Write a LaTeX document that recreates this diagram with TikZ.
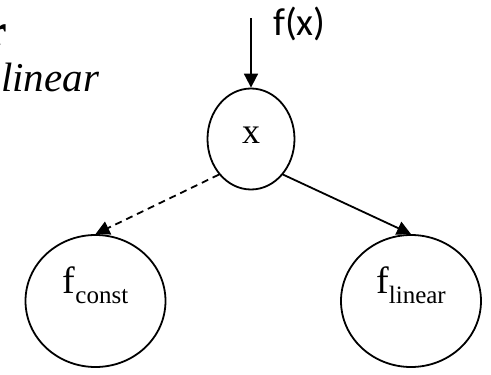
\documentclass[tikz,border=0pt]{standalone}
\usepackage{fontspec}
\setmainfont{Liberation Serif}
\newfontfamily\labelfont{Carlito}
\usetikzlibrary{shapes.geometric,arrows.meta,backgrounds}

\newcommand{\subtext}[1]{\raisebox{-10pt}{\fontsize{25}{27}\selectfont #1}}

\begin{document}
\begin{tikzpicture}[x=1pt,y=-1pt,
    bubble/.style={draw,ellipse,line width=1.8pt,fill=white,inner sep=0pt},
    leaf/.style={bubble,minimum width=140pt,minimum height=132pt,
      text height=26pt,text depth=42pt,font=\fontsize{38}{40}\selectfont},
    link/.style={line width=1.8pt,-{Triangle[length=14pt,width=14pt]}}]
  \useasboundingbox (0,0) rectangle (491,375);
  \clip (0,0) rectangle (491,375);
  % heading, cut off at the left edge
  \node[anchor=base west,inner sep=0pt,font=\fontsize{44}{46}\selectfont\bfseries] (head) at (-13,45) {r};
  \node[anchor=base west,inner sep=0pt,font=\fontsize{41}{44}\selectfont\itshape] (kind) at (1,91) {linear};
  % tree
  \node[bubble,minimum width=87pt,minimum height=101pt,text height=16pt,text depth=8pt,
    font=\fontsize{36}{38}\selectfont] (x) at (251,139) {x};
  \node[leaf] (fc) at (95.5,301) {f\subtext{const}};
  \node[leaf] (fl) at (411,301) {f\subtext{linear}};
  \node[anchor=base west,inner sep=0pt,font=\labelfont\fontsize{39}{42}\selectfont] (fx) at (273,35) {f(x)};
  \coordinate (src) at (251,18);
  \begin{scope}[on background layer]
    \draw[link] (src) -- (x.north);
    \draw[link,dash pattern=on 7pt off 5pt] (x.228) -- (fc.north);
    \draw[link] (x.312) -- (fl.north);
  \end{scope}
\end{tikzpicture}
\end{document}
